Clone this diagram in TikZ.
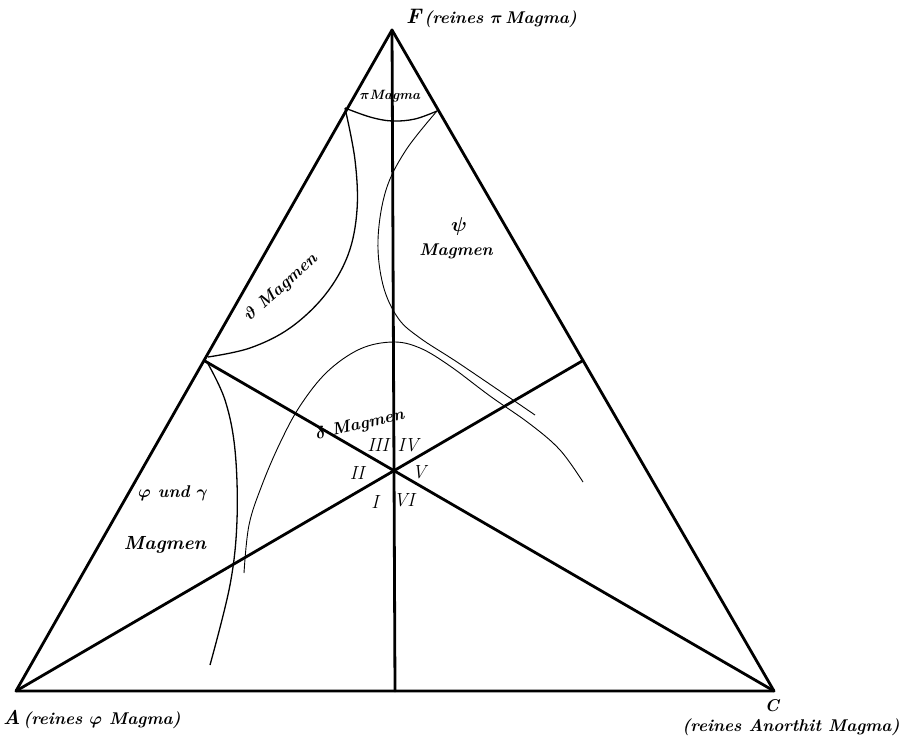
\RequirePackage{fix-cm}
\documentclass[tikz,border=0pt]{standalone}
\usetikzlibrary{calc}
\begin{document}
\begin{tikzpicture}[x=1pt,y=-1pt,
  thickline/.style={line width=2.8pt, line cap=round, line join=round},
  thincurve/.style={line width=0.9pt},
  midcurve/.style={line width=1.3pt},
  lab/.style={font=\fontsize{17}{20}\selectfont\bfseries\itshape\boldmath, inner sep=0pt},
  smlab/.style={font=\fontsize{13.5}{16}\selectfont\bfseries\itshape\boldmath, inner sep=0pt},
  numlab/.style={font=\fontsize{19}{22}\selectfont\itshape, inner sep=0pt}]
\useasboundingbox (0,0) rectangle (904,739);
\fill[white] (0,0) rectangle (904,739);
% vertices and midpoints
\coordinate (F) at (392,30);
\coordinate (A) at (16,691);
\coordinate (C) at (774,691);
\coordinate (mAC) at ($(A)!0.5!(C)$);
\coordinate (mFC) at ($(F)!0.5!(C)$);
\coordinate (mFA) at ($(F)!0.5!(A)$);
% triangle and medians
\draw[thickline] (A) -- (C) -- (F) -- cycle;
\draw[thickline] (F) -- (mAC);
\draw[thickline] (A) -- (mFC);
\draw[thickline] (C) -- (mFA);
% pi arc
\draw[midcurve] plot[smooth, tension=0.6] coordinates {(345,108) (370,117) (392,121) (415,119) (437,111)};
% theta curve
\draw[midcurve] plot[smooth, tension=0.6] coordinates {(345,108) (355,160) (357,210) (348,255) (325,295) (290,328) (250,348) (208,357)};
% psi curve
\draw[thincurve] plot[smooth, tension=0.6] coordinates {(437,111) (406,150) (386,190) (378,240) (383,285) (398,318) (420,338) (460,364) (535,415)};
% delta arch
\draw[thincurve] plot[smooth, tension=0.6] coordinates {(244,573) (249,525) (262,485) (280,443) (300,406) (327,372) (360,349) (393,342) (420,348) (450,366) (490,396) (530,424) (560,450) (583,482)};
% gamma curve
\draw[midcurve] plot[smooth, tension=0.6] coordinates {(207,362) (225,400) (235,450) (237,520) (230,585) (210,665)};
% labels
\node[lab, anchor=base west] (Flab) at (406,23) {{\fontsize{21}{21}\selectfont F}\,(reines $\pi$\,Magma)};
\node[smlab, anchor=base] (pilab) at (390,99) {$\pi$Magma};
\node[lab, rotate=42] (thetalab) at (281,288) {$\vartheta$ Magmen};
\node[lab, font=\fontsize{20}{22}\selectfont\boldmath] (psisym) at (459,226) {$\psi$};
\node[lab, anchor=base] (psilab) at (456,255) {Magmen};
\node[lab, rotate=13] (deltalab) at (360,425) {$\delta$ Magmen};
\node[numlab] (n3) at (378,445) {III};
\node[numlab] (n4) at (408,445) {IV};
\node[numlab] (n2) at (357,473) {II};
\node[numlab] (n5) at (419,472) {V};
\node[numlab] (n1) at (375,502) {I};
\node[numlab] (n6) at (404,500) {VI};
\node[lab] (phigam) at (173,493) {$\varphi$ und $\gamma$};
\node[lab, font=\fontsize{19}{22}\selectfont\bfseries\itshape\boldmath] (leftmag) at (165,545) {Magmen};
\node[lab, anchor=base west] (Alab) at (3,724) {{\fontsize{20}{20}\selectfont A}\,(reines $\varphi$ Magma)};
\node[lab] (Clab) at (772,706) {C};
\node[lab] (Clab2) at (791,727) {(reines Anorthit Magma)};
\end{tikzpicture}
\end{document}
